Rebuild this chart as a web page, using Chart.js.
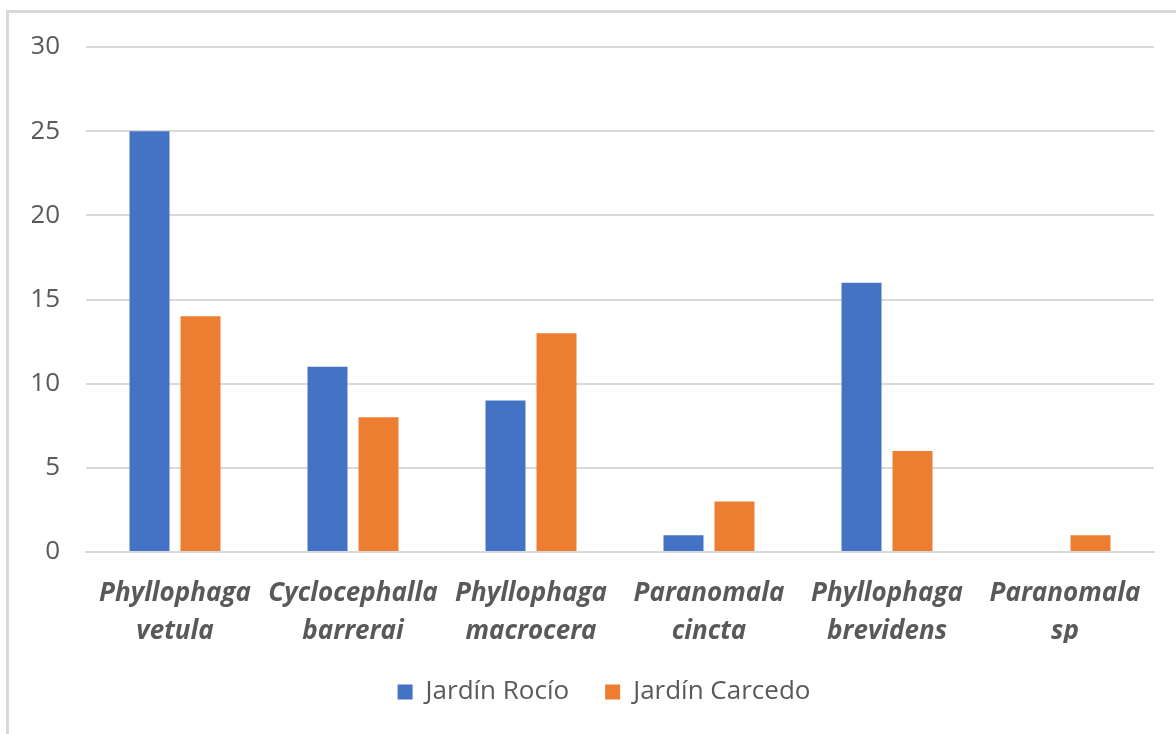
<!DOCTYPE html>
<html lang="es">
<head>
<meta charset="utf-8">
<title>Especies por jardín</title>
<script src="https://cdn.jsdelivr.net/npm/chart.js@4/dist/chart.umd.min.js"></script>
<style>
  html, body { margin: 0; padding: 0; background: #fff; }
  body { width: 1176px; height: 734px; position: relative; overflow: hidden; }
  #frame {
    position: absolute; left: 6px; top: 10px; width: 1200px; height: 760px;
    border-top: 3px solid #d9d9d9; border-left: 3px solid #d9d9d9;
    box-sizing: border-box;
  }
  #wrap { position: absolute; left: 0; top: 0; width: 1176px; height: 734px; }
</style>
</head>
<body>
<div id="frame"></div>
<div id="wrap"><canvas id="chart" width="1176" height="734"></canvas></div>
<script>
// Species (two-line labels) and counts per garden
const categories = [
  ['Phyllophaga', 'vetula'],
  ['Cyclocephalla', 'barrerai'],
  ['Phyllophaga', 'macrocera'],
  ['Paranomala', 'cincta'],
  ['Phyllophaga', 'brevidens'],
  ['Paranomala', 'sp']
];
const seriesNames = ['Jardín Rocío', 'Jardín Carcedo'];
const jardinRocio = [25, 11, 9, 1, 16, 0];
const jardinCarcedo = [14, 8, 13, 3, 6, 1];
const yTicks = [0, 5, 10, 15, 20, 25, 30];

const textGray = '#595959';
const fontFamily = '"Open Sans", "Noto Sans", sans-serif';

new Chart(document.getElementById('chart'), {
  type: 'bar',
  data: {
    labels: categories,
    datasets: [
      { label: seriesNames[0], data: jardinRocio, backgroundColor: '#4472C4' },
      { label: seriesNames[1], data: jardinCarcedo, backgroundColor: '#ED7D31' }
    ]
  },
  options: {
    responsive: false,
    animation: false,
    devicePixelRatio: 1,
    categoryPercentage: 0.573,
    barPercentage: 0.784,
    layout: { padding: { left: 32, right: 0, top: 47, bottom: 19 } },
    plugins: {
      tooltip: { enabled: false },
      legend: {
        position: 'bottom',
        labels: {
          color: textGray,
          font: { family: fontFamily, size: 26 },
          boxWidth: 15,
          boxHeight: 15,
          padding: 36
        }
      }
    },
    scales: {
      x: {
        grid: { display: false, drawTicks: false },
        border: { display: true, color: '#d9d9d9', width: 2 },
        ticks: {
          color: textGray,
          font: { family: fontFamily, size: 26, style: 'italic', weight: 'bold', lineHeight: 1.46 },
          padding: 23,
          maxRotation: 0,
          autoSkip: false
        },
        afterFit(scale) { scale.height = 91; }
      },
      y: {
        min: 0,
        max: 30,
        afterBuildTicks(scale) { scale.ticks = yTicks.map(v => ({ value: v })); },
        grid: { color: '#d9d9d9', lineWidth: 2, drawTicks: false },
        border: { display: false },
        ticks: {
          color: textGray,
          font: { family: fontFamily, size: 26 },
          padding: 26
        },
        afterFit(scale) { scale.width = 54; }
      },
      // empty right-hand margin so the plot ends short of the frame edge
      yRight: {
        position: 'right',
        grid: { display: false, drawTicks: false },
        border: { display: false },
        ticks: { display: false },
        afterFit(scale) { scale.width = 22; }
      }
    }
  }
});
</script>
</body>
</html>
